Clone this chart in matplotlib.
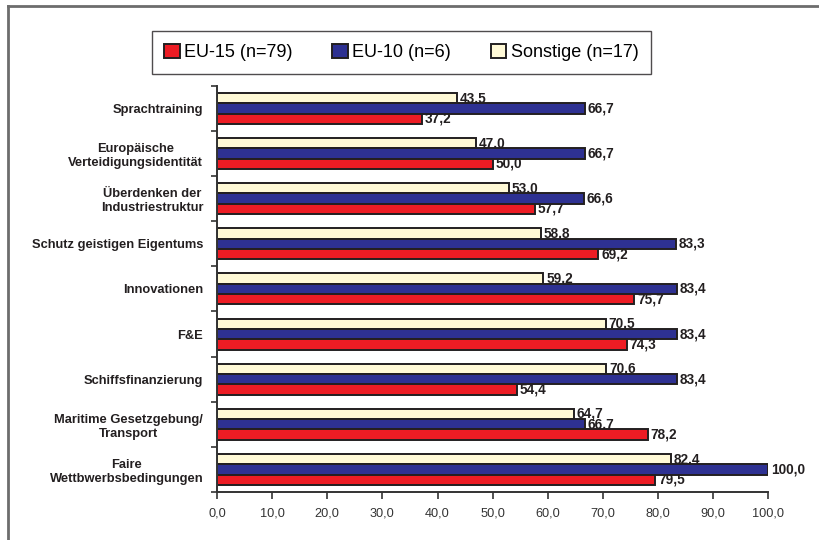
import numpy as np
import matplotlib.pyplot as plt
from matplotlib.lines import Line2D
from matplotlib.patches import Patch

plt.rcParams['font.family'] = ['Liberation Sans', 'DejaVu Sans']

# categories, top to bottom
categories = [
    "Sprachtraining",
    "Europäische\nVerteidigungsidentität",
    "Überdenken der\nIndustriestruktur",
    "Schutz geistigen Eigentums",
    "Innovationen",
    "F&E",
    "Schiffsfinanzierung",
    "Maritime Gesetzgebung/\nTransport",
    "Faire\nWettbwerbsbedingungen",
]
eu15 = [37.2, 50.0, 57.7, 69.2, 75.7, 74.3, 54.4, 78.2, 79.5]
eu10 = [66.7, 66.7, 66.6, 83.3, 83.4, 83.4, 83.4, 66.7, 100.0]
sonstige = [43.5, 47.0, 53.0, 58.8, 59.2, 70.5, 70.6, 64.7, 82.4]
series_names = ["EU-15 (n=79)", "EU-10 (n=6)", "Sonstige (n=17)"]
x_ticks = [0, 10, 20, 30, 40, 50, 60, 70, 80, 90, 100]

c_red = "#ED1C24"
c_blue = "#2E3192"
c_cream = "#FFF9D6"
edge = "#231F20"

fig = plt.figure(figsize=(8.19, 5.40), dpi=100)
ax = fig.add_axes([0.265, 0.089, 0.673, 0.752])

y = np.arange(len(categories))
h = 0.229
# inverted y axis: smaller offset is higher
for vals, off, col in [(sonstige, -h, c_cream), (eu10, 0, c_blue), (eu15, h, c_red)]:
    ax.barh(y + off, vals, height=h, color=col, edgecolor=edge, linewidth=1.4, zorder=2)
    # labels sit under the bars, like the original where neighbours clip them
    for yi, v in zip(y, vals):
        ax.text(v + 0.5, yi + off, f"{v:.1f}".replace(".", ","), ha="left", va="center",
                fontsize=9.8, fontweight="bold", color="#231F20", zorder=1)

ax.set_xlim(0, 100)
ax.set_ylim(len(categories) - 0.5, -0.5)
ax.set_xticks(x_ticks)
ax.set_xticklabels([f"{t:.1f}".replace(".", ",") for t in x_ticks], fontsize=9.2, color="#333333")
ax.set_yticks(np.arange(-0.5, len(categories), 1.0))
ax.set_yticklabels([])
ax.set_yticks(y, minor=True)
ax.set_yticklabels(categories, minor=True, fontsize=9.3, fontweight="bold",
                   color="#231F20", multialignment="center")
ax.tick_params(axis="y", which="minor", length=0, pad=10)
ax.tick_params(axis="y", which="major", direction="out", length=4, width=1.2, color="#333333")
ax.tick_params(axis="x", direction="out", length=5, width=1.2, color="#333333", pad=6)
for s in ["top", "right"]:
    ax.spines[s].set_visible(False)
for s in ["left", "bottom"]:
    ax.spines[s].set_color("#333333")
    ax.spines[s].set_linewidth(1.4)

handles = [Patch(facecolor=c, edgecolor=edge, linewidth=1.4) for c in (c_red, c_blue, c_cream)]
leg = fig.legend(handles, series_names, loc="center", bbox_to_anchor=(0.49, 0.903),
                 ncol=3, fontsize=13, frameon=True, fancybox=False, edgecolor="#231F20",
                 handlelength=0.85, handleheight=0.85, handletextpad=0.25, columnspacing=2.2,
                 borderpad=0.7, borderaxespad=0)
leg.get_frame().set_linewidth(1.0)

# outer border (top and left)
fig.add_artist(Line2D([7.5 / 819, 1.0], [1 - 5.5 / 540, 1 - 5.5 / 540], color="#6d6d6d", lw=2))
fig.add_artist(Line2D([7.5 / 819, 7.5 / 819], [0.0, 1 - 5.5 / 540], color="#6d6d6d", lw=2))

fig.savefig("out.png", dpi=100)
